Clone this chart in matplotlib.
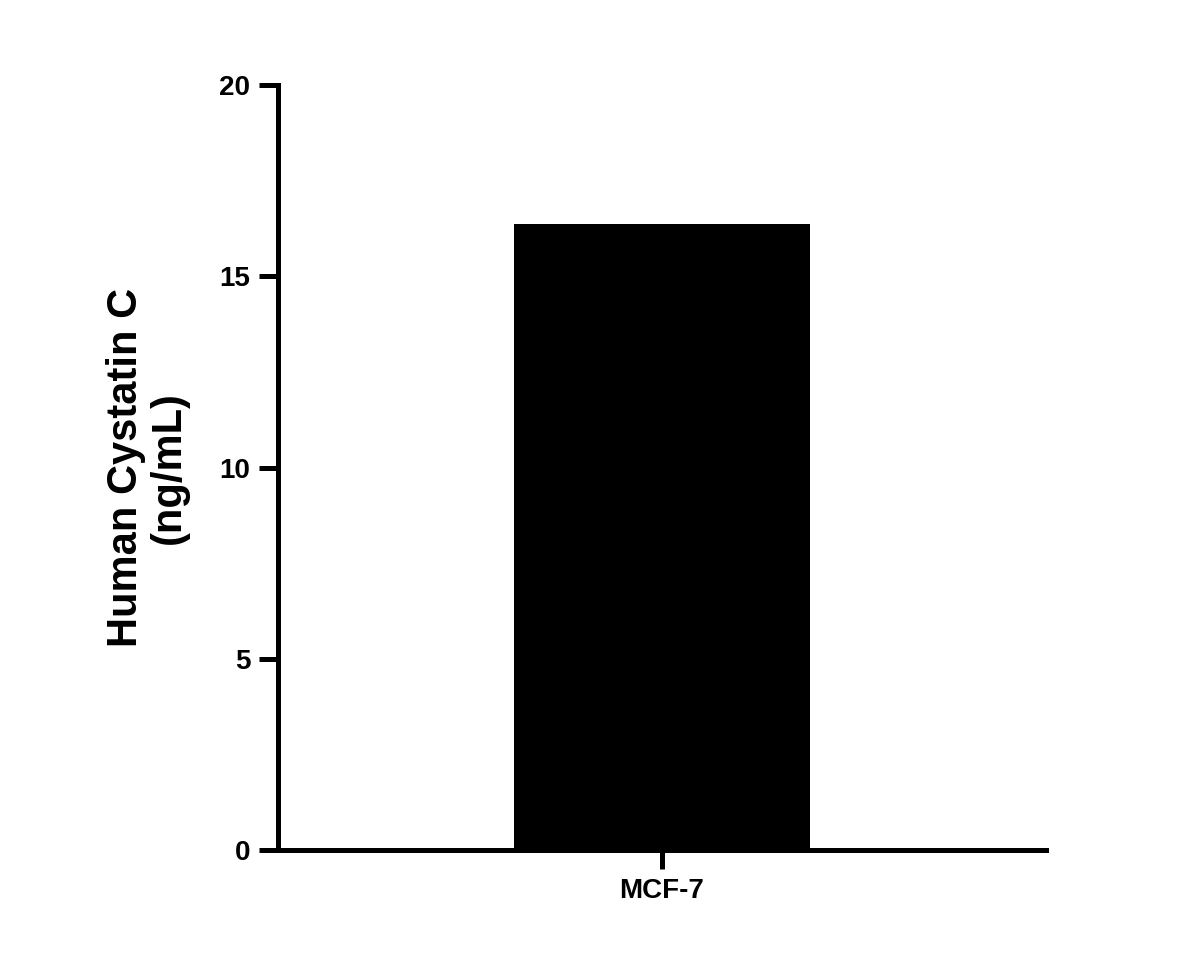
import matplotlib
matplotlib.use("Agg")
import matplotlib.pyplot as plt

categories = ["MCF-7"]
values = [16.37]
yticks = [0, 5, 10, 15, 20]

plt.rcParams['font.family'] = ['Liberation Sans', 'DejaVu Sans']
plt.rcParams['font.weight'] = 'bold'

fig = plt.figure(figsize=(11.83, 9.67), dpi=100)
ax = fig.add_axes([0.235, 0.121, 0.649, 0.791])
ax.bar([0], values, width=0.77, color='black')
ax.set_xlim(-1, 1)
ax.set_ylim(0, 20)
ax.set_xticks([0])
ax.set_xticklabels(categories, fontsize=20, fontweight='bold')
ax.set_yticks(yticks)
ax.set_yticklabels([str(t) for t in yticks], fontsize=20, fontweight='bold')
for s in ['top', 'right']:
    ax.spines[s].set_visible(False)
for s in ['left', 'bottom']:
    ax.spines[s].set_linewidth(3.6)
ax.tick_params(width=3.6, length=14, pad=6)
ax.set_ylabel("Human Cystatin C\n(ng/mL)", fontsize=30, fontweight='bold', labelpad=22, linespacing=1.1)
fig.savefig("out.png", dpi=100)
